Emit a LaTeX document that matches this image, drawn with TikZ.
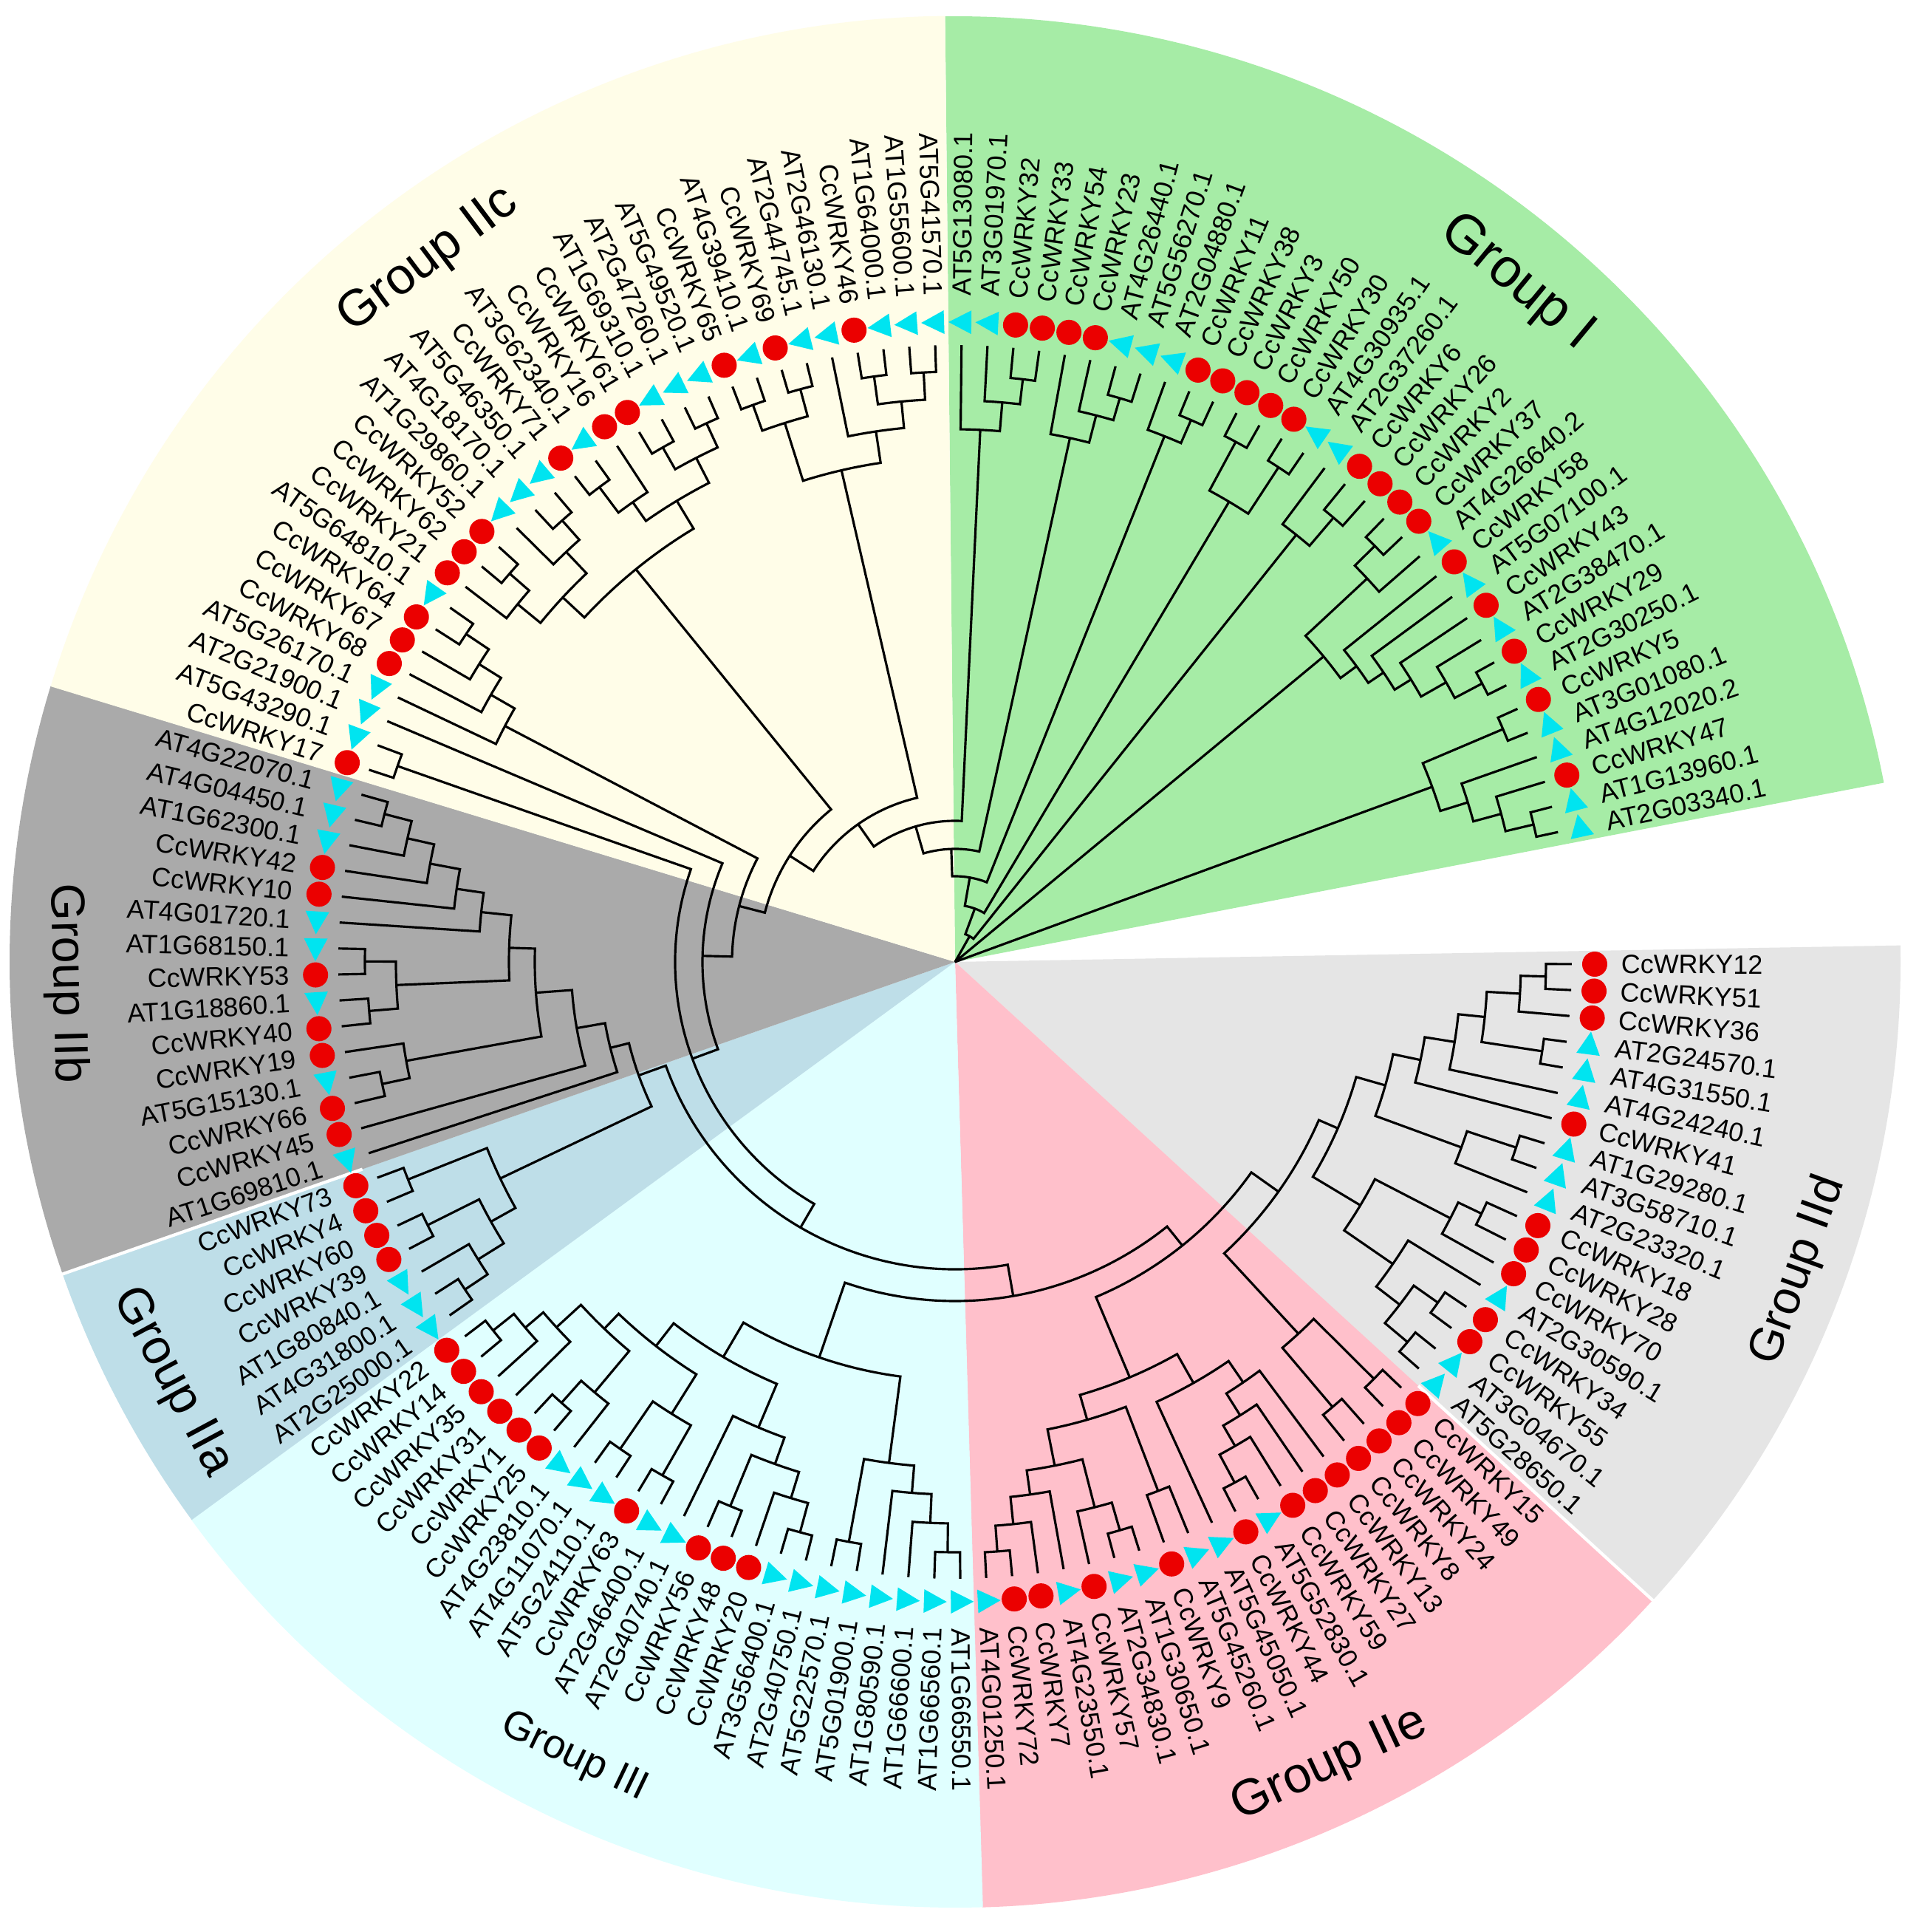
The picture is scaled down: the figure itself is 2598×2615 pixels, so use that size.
\documentclass[tikz,border=0pt]{standalone}
\usepackage{fontspec}
\setmainfont{Liberation Sans}
\definecolor{cI}{RGB}{166,236,166}
\definecolor{cIIc}{RGB}{255,253,232}
\definecolor{cIIb}{RGB}{170,170,170}
\definecolor{cIIa}{RGB}{190,222,232}
\definecolor{cIII}{RGB}{224,255,255}
\definecolor{cIIe}{RGB}{255,192,203}
\definecolor{cIId}{RGB}{229,229,229}
\definecolor{mred}{RGB}{235,0,0}
\definecolor{mcyan}{RGB}{0,228,240}
\tikzset{
  br/.style={line width=0.9pt, black, line join=miter},
  lab/.style={font=\fontsize{10.2}{12}\selectfont, inner sep=0pt, outer sep=0pt},
  grp/.style={inner sep=0pt, outer sep=0pt},
}
\newcommand\defleaf[3]{%
  \pgfmathsetmacro\la{#1<33 ? -270.6-2.414*#1 : -0.2-2.414*(#1-33)}%
  \expandafter\xdef\csname A@L#1\endcsname{\la}%
  \expandafter\xdef\csname R@L#1\endcsname{835}%
  \pgfmathtruncatemacro\side{cos(\la)>=0 ? 1 : 0}%
  \ifnum\side=1
    \node[lab, rotate=\la, anchor=west] (t#1) at (\la:902) {#2};%
  \else
    \pgfmathsetmacro\lb{\la+180}%
    \node[lab, rotate=\lb, anchor=east] (t#1) at (\la:902) {#2};%
  \fi
  \def\tmp{#3}\def\tC{C}%
  \ifx\tmp\tC
    \fill[mred] (\la:866) circle[radius=0.17cm];%
  \else
    \fill[mcyan, shift={(\la:866)}, rotate=\la] (0,18) -- (-16,-13) -- (16,-13) -- cycle;%
  \fi
}
\newcommand\jn[4]{%
  \pgfmathsetmacro\ja{\csname A@#3\endcsname}%
  \pgfmathsetmacro\jb{\csname A@#4\endcsname}%
  \pgfmathsetmacro\jm{(\ja+\jb)/2}%
  \expandafter\xdef\csname A@#1\endcsname{\jm}%
  \expandafter\xdef\csname R@#1\endcsname{#2}%
  \draw[br] (\ja:\csname R@#3\endcsname) -- (\ja:#2) arc[start angle=\ja, end angle=\jb, radius=#2*0.01cm] -- (\jb:\csname R@#4\endcsname);%
}
\newcommand\sector[3]{%
  \fill[#1] (0,0) -- (#2:1280) arc[start angle=#2, end angle=#3, radius=12.8cm] -- cycle;}
\begin{document}
\begin{tikzpicture}[x=0.01cm,y=0.01cm]
\useasboundingbox (-1293,-1313) rectangle (1305,1302);
\fill[white] (-1293,-1313) rectangle (1305,1302);
% sectors
\sector{cI}{90.6}{10.95}
\sector{cIId}{1.0}{-42.45}
\sector{cIIe}{-42.45}{-88.31}
\sector{cIII}{-88.31}{-143.84}
\sector{cIIa}{-143.84}{-160.73}
\sector{cIIb}{-160.73}{-196.94}
\sector{cIIc}{-196.94}{-269.36}
\draw[white, line width=1.2pt] (-160.73:850) -- (-160.73:1285);
\draw[white, line width=1.2pt] (-42.45:850) -- (-42.45:1285);
% leaves
\defleaf{0}{AT5G13080.1}{T}
\defleaf{1}{AT3G01970.1}{T}
\defleaf{2}{CcWRKY32}{C}
\defleaf{3}{CcWRKY33}{C}
\defleaf{4}{CcWRKY54}{C}
\defleaf{5}{CcWRKY23}{C}
\defleaf{6}{AT4G26440.1}{T}
\defleaf{7}{AT5G56270.1}{T}
\defleaf{8}{AT2G04880.1}{T}
\defleaf{9}{CcWRKY11}{C}
\defleaf{10}{CcWRKY38}{C}
\defleaf{11}{CcWRKY3}{C}
\defleaf{12}{CcWRKY50}{C}
\defleaf{13}{CcWRKY30}{C}
\defleaf{14}{AT4G30935.1}{T}
\defleaf{15}{AT2G37260.1}{T}
\defleaf{16}{CcWRKY6}{C}
\defleaf{17}{CcWRKY26}{C}
\defleaf{18}{CcWRKY2}{C}
\defleaf{19}{CcWRKY37}{C}
\defleaf{20}{AT4G26640.2}{T}
\defleaf{21}{CcWRKY58}{C}
\defleaf{22}{AT5G07100.1}{T}
\defleaf{23}{CcWRKY43}{C}
\defleaf{24}{AT2G38470.1}{T}
\defleaf{25}{CcWRKY29}{C}
\defleaf{26}{AT2G30250.1}{T}
\defleaf{27}{CcWRKY5}{C}
\defleaf{28}{AT3G01080.1}{T}
\defleaf{29}{AT4G12020.2}{T}
\defleaf{30}{CcWRKY47}{C}
\defleaf{31}{AT1G13960.1}{T}
\defleaf{32}{AT2G03340.1}{T}
\defleaf{33}{CcWRKY12}{C}
\defleaf{34}{CcWRKY51}{C}
\defleaf{35}{CcWRKY36}{C}
\defleaf{36}{AT2G24570.1}{T}
\defleaf{37}{AT4G31550.1}{T}
\defleaf{38}{AT4G24240.1}{T}
\defleaf{39}{CcWRKY41}{C}
\defleaf{40}{AT1G29280.1}{T}
\defleaf{41}{AT3G58710.1}{T}
\defleaf{42}{AT2G23320.1}{T}
\defleaf{43}{CcWRKY18}{C}
\defleaf{44}{CcWRKY28}{C}
\defleaf{45}{CcWRKY70}{C}
\defleaf{46}{AT2G30590.1}{T}
\defleaf{47}{CcWRKY34}{C}
\defleaf{48}{CcWRKY55}{C}
\defleaf{49}{AT3G04670.1}{T}
\defleaf{50}{AT5G28650.1}{T}
\defleaf{51}{CcWRKY15}{C}
\defleaf{52}{CcWRKY49}{C}
\defleaf{53}{CcWRKY24}{C}
\defleaf{54}{CcWRKY8}{C}
\defleaf{55}{CcWRKY13}{C}
\defleaf{56}{CcWRKY27}{C}
\defleaf{57}{CcWRKY59}{C}
\defleaf{58}{AT5G52830.1}{T}
\defleaf{59}{CcWRKY44}{C}
\defleaf{60}{AT5G45050.1}{T}
\defleaf{61}{AT5G45260.1}{T}
\defleaf{62}{CcWRKY9}{C}
\defleaf{63}{AT1G30650.1}{T}
\defleaf{64}{AT2G34830.1}{T}
\defleaf{65}{CcWRKY57}{C}
\defleaf{66}{AT4G23550.1}{T}
\defleaf{67}{CcWRKY7}{C}
\defleaf{68}{CcWRKY72}{C}
\defleaf{69}{AT4G01250.1}{T}
\defleaf{70}{AT1G66550.1}{T}
\defleaf{71}{AT1G66560.1}{T}
\defleaf{72}{AT1G66600.1}{T}
\defleaf{73}{AT1G80590.1}{T}
\defleaf{74}{AT5G01900.1}{T}
\defleaf{75}{AT5G22570.1}{T}
\defleaf{76}{AT2G40750.1}{T}
\defleaf{77}{AT3G56400.1}{T}
\defleaf{78}{CcWRKY20}{C}
\defleaf{79}{CcWRKY48}{C}
\defleaf{80}{CcWRKY56}{C}
\defleaf{81}{AT2G40740.1}{T}
\defleaf{82}{AT2G46400.1}{T}
\defleaf{83}{CcWRKY63}{C}
\defleaf{84}{AT5G24110.1}{T}
\defleaf{85}{AT4G11070.1}{T}
\defleaf{86}{AT4G23810.1}{T}
\defleaf{87}{CcWRKY25}{C}
\defleaf{88}{CcWRKY1}{C}
\defleaf{89}{CcWRKY31}{C}
\defleaf{90}{CcWRKY35}{C}
\defleaf{91}{CcWRKY14}{C}
\defleaf{92}{CcWRKY22}{C}
\defleaf{93}{AT2G25000.1}{T}
\defleaf{94}{AT4G31800.1}{T}
\defleaf{95}{AT1G80840.1}{T}
\defleaf{96}{CcWRKY39}{C}
\defleaf{97}{CcWRKY60}{C}
\defleaf{98}{CcWRKY4}{C}
\defleaf{99}{CcWRKY73}{C}
\defleaf{100}{AT1G69810.1}{T}
\defleaf{101}{CcWRKY45}{C}
\defleaf{102}{CcWRKY66}{C}
\defleaf{103}{AT5G15130.1}{T}
\defleaf{104}{CcWRKY19}{C}
\defleaf{105}{CcWRKY40}{C}
\defleaf{106}{AT1G18860.1}{T}
\defleaf{107}{CcWRKY53}{C}
\defleaf{108}{AT1G68150.1}{T}
\defleaf{109}{AT4G01720.1}{T}
\defleaf{110}{CcWRKY10}{C}
\defleaf{111}{CcWRKY42}{C}
\defleaf{112}{AT1G62300.1}{T}
\defleaf{113}{AT4G04450.1}{T}
\defleaf{114}{AT4G22070.1}{T}
\defleaf{115}{CcWRKY17}{C}
\defleaf{116}{AT5G43290.1}{T}
\defleaf{117}{AT2G21900.1}{T}
\defleaf{118}{AT5G26170.1}{T}
\defleaf{119}{CcWRKY68}{C}
\defleaf{120}{CcWRKY67}{C}
\defleaf{121}{CcWRKY64}{C}
\defleaf{122}{AT5G64810.1}{T}
\defleaf{123}{CcWRKY21}{C}
\defleaf{124}{CcWRKY62}{C}
\defleaf{125}{CcWRKY52}{C}
\defleaf{126}{AT1G29860.1}{T}
\defleaf{127}{AT4G18170.1}{T}
\defleaf{128}{AT5G46350.1}{T}
\defleaf{129}{CcWRKY71}{C}
\defleaf{130}{AT3G62340.1}{T}
\defleaf{131}{CcWRKY16}{C}
\defleaf{132}{CcWRKY61}{C}
\defleaf{133}{AT1G69310.1}{T}
\defleaf{134}{AT2G47260.1}{T}
\defleaf{135}{AT5G49520.1}{T}
\defleaf{136}{CcWRKY65}{C}
\defleaf{137}{AT4G39410.1}{T}
\defleaf{138}{CcWRKY69}{C}
\defleaf{139}{AT2G44745.1}{T}
\defleaf{140}{AT2G46130.1}{T}
\defleaf{141}{CcWRKY46}{C}
\defleaf{142}{AT1G64000.1}{T}
\defleaf{143}{AT1G55600.1}{T}
\defleaf{144}{AT5G41570.1}{T}
% ---- Group I
\jn{g1}{794}{L2}{L3}
\jn{g2}{760}{L1}{g1}
\jn{g3}{721}{L0}{g2}
\jn{g4}{795}{L6}{L7}
\jn{g5}{764}{L5}{g4}
\jn{g6}{726}{L4}{g5}
\jn{g7}{800}{L9}{L10}
\jn{g8}{766}{L8}{g7}
\jn{g9}{800}{L11}{L12}
\jn{g10}{800}{L13}{L14}
\jn{g12}{725}{g9}{g10}
\jn{g13}{790}{L16}{L17}
\jn{gx}{740}{L15}{g13}
\jn{g14}{800}{L18}{L19}
\jn{g15}{762}{g14}{L20}
\jn{g17}{807}{L25}{L26}
\jn{g18}{765}{L24}{g17}
\jn{g19}{726}{L23}{g18}
\jn{g20}{700}{L22}{g19}
\jn{g21}{675}{L21}{g20}
\jn{g39}{648}{g15}{g21}
\jn{g22}{805}{L31}{L32}
\jn{g23}{766}{L30}{g22}
\jn{g24}{727}{L29}{g23}
\jn{g25}{806}{L27}{L28}
\jn{g26}{688}{g25}{g24}
% ---- Group IIc
\jn{c1}{800}{L115}{L116}
\jn{xc}{797}{L121}{L122}
\jn{xb}{760}{L120}{xc}
\jn{xa}{725}{L119}{xb}
\jn{X}{688}{L118}{xa}
\jn{c6}{800}{L124}{L125}
\jn{c7}{765}{L123}{c6}
\jn{c8}{800}{L127}{L128}
\jn{c9}{765}{L126}{c8}
\jn{P}{725}{c7}{c9}
\jn{c14}{803}{L129}{L130}
\jn{c13}{760}{L131}{c14}
\jn{c10}{801}{L132}{L133}
\jn{c11}{803}{L134}{L135}
\jn{c12}{767}{c10}{c11}
\jn{Q}{729}{c13}{c12}
\jn{Wc}{685}{P}{Q}
\jn{c20}{803}{L138}{L139}
\jn{c21}{802}{L136}{L137}
\jn{c22}{765}{c21}{c20}
\jn{c23}{800}{L141}{L142}
\jn{c24}{799}{L143}{L144}
\jn{c25}{762}{c23}{c24}
\jn{c26}{726}{L140}{c25}
\jn{c27}{683}{c22}{c26}
% ---- Group IIb
\jn{b1}{798}{L113}{L114}
\jn{b2}{760}{L112}{b1}
\jn{b3}{723}{L111}{b2}
\jn{b4}{682}{L110}{b3}
\jn{b5}{645}{L109}{b4}
\jn{b6}{799}{L107}{L108}
\jn{b7}{796}{L105}{L106}
\jn{b8}{757}{b7}{b6}
\jn{b9}{604}{b8}{b5}
\jn{b10}{793}{L102}{L103}
\jn{b11}{755}{L104}{b10}
\jn{b12}{569}{b11}{b9}
\jn{b13}{520}{L101}{b12}
\jn{b14}{481}{L100}{b13}
% ---- Group IIa
\jn{a1}{798}{L93}{L94}
\jn{a2}{761}{L95}{a1}
\jn{a3}{798}{L96}{L97}
\jn{a4}{720}{a3}{a2}
\jn{a5}{797}{L98}{L99}
\jn{a6}{682}{a5}{a4}
\jn{ab}{455}{b14}{a6}
% ---- Group III
\jn{t1}{799}{L70}{L71}
\jn{t2}{760}{L72}{t1}
\jn{t3}{721}{L73}{t2}
\jn{t4}{798}{L74}{L75}
\jn{t5}{684}{t4}{t3}
\jn{t6}{800}{L76}{L77}
\jn{t7}{759}{L78}{t6}
\jn{t8}{797}{L79}{L80}
\jn{t9}{722}{t8}{t7}
\jn{t10}{684}{L81}{t9}
\jn{w1}{800}{L82}{L83}
\jn{w2}{800}{L84}{L85}
\jn{tw}{722}{w1}{w2}
\jn{x87}{800}{L87}{L88}
\jn{xn}{760}{L86}{x87}
\jn{p0}{800}{L91}{L92}
\jn{p1}{764}{L90}{p0}
\jn{p2}{732}{p1}{L89}
\jn{p3}{687}{p2}{xn}
\jn{p4}{659}{p3}{tw}
\jn{p5}{620}{p4}{t10}
\jn{t22}{566}{p5}{t5}
% ---- Group IIe
\jn{e1}{800}{L68}{L69}
\jn{e2}{765}{L67}{e1}
\jn{e3}{728}{L66}{e2}
\jn{e4}{801}{L63}{L64}
\jn{e5}{762}{L65}{e4}
\jn{e6}{695}{e3}{e5}
\jn{e7}{767}{L61}{L62}
\jn{E1}{645}{e6}{e7}
\jn{r1}{800}{L58}{L59}
\jn{r2}{757}{L57}{r1}
\jn{r3}{725}{L56}{r2}
\jn{r4}{690}{L55}{r3}
\jn{E2}{655}{L60}{r4}
\jn{E}{610}{E1}{E2}
\jn{s1}{800}{L51}{L52}
\jn{s2}{790}{L53}{L54}
\jn{D2}{685}{s1}{s2}
% ---- Group IId
\jn{d1}{800}{L33}{L34}
\jn{d2}{766}{L35}{d1}
\jn{d3}{804}{L36}{L37}
\jn{d4}{721}{d2}{d3}
\jn{d5}{685}{L38}{d4}
\jn{d6}{644}{L39}{d5}
\jn{d7}{800}{L40}{L41}
\jn{d8}{730}{L42}{d7}
\jn{d9}{606}{d6}{d8}
\jn{z1}{790}{L43}{L44}
\jn{z2}{755}{L45}{z1}
\jn{z3}{800}{L47}{L48}
\jn{z4}{800}{L49}{L50}
\jn{z5}{760}{z3}{z4}
\jn{z6}{720}{L46}{z5}
\jn{Zd}{640}{z2}{z6}
\jn{D1}{565}{d9}{Zd}
\jn{D}{537}{D1}{D2}
% ---- backbone
\jn{ed}{492}{E}{D}
\jn{Y}{459}{t22}{ed}
\jn{K}{416}{ab}{Y}
\jn{U}{379}{c1}{K}
\jn{A}{342}{L117}{U}
\jn{V}{302}{X}{A}
\jn{W}{266}{Wc}{V}
\jn{Z}{228}{W}{c27}
\jn{N1}{191}{Z}{g3}
\jn{N2}{153}{N1}{g6}
\jn{N3}{116}{N2}{g8}
\jn{N4}{77}{N3}{g12}
\jn{N5}{40}{N4}{gx}
\jn{R0}{2}{N5}{g39}
\jn{R00}{1}{R0}{g26}
% group labels
\node[grp, font=\fontsize{21}{24}\selectfont, rotate=-39.6] (gI) at (50.4:1193) {Group I};
\node[grp, font=\fontsize{19.7}{24}\selectfont, rotate=36.9] (gIIc) at (126.9:1187) {Group IIc};
\node[grp, font=\fontsize{18.4}{22}\selectfont, rotate=-88.6] (gIIb) at (181.4:1204) {Group IIb};
\node[grp, font=\fontsize{19}{22}\selectfont, rotate=-61.8] (gIIa) at (-151.8:1203) {Group IIa};
\node[grp, font=\fontsize{15.6}{20}\selectfont, rotate=-25.6] (gIII) at (-115.6:1194) {Group III};
\node[grp, font=\fontsize{19.4}{22}\selectfont, rotate=25] (gIIe) at (-65:1200) {Group IIe};
\node[grp, font=\fontsize{18.2}{22}\selectfont, rotate=69.9] (gIId) at (-20.1:1216) {Group IId};
\end{tikzpicture}
\end{document}
